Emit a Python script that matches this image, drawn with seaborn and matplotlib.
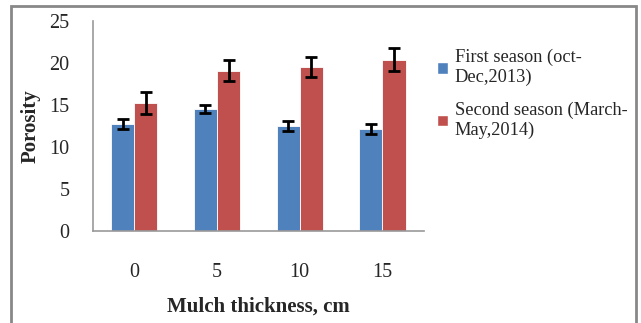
import matplotlib
matplotlib.use("Agg")
import matplotlib.pyplot as plt
from matplotlib.patches import Rectangle
import seaborn as sns
import pandas as pd

thickness = ['0', '5', '10', '15']
seasons = ['First season (oct-\nDec,2013)', 'Second season (March-\nMay,2014)']
first_season = [12.7, 14.5, 12.5, 12.1]
second_season = [15.2, 19.1, 19.5, 20.4]
first_err = [0.6, 0.5, 0.6, 0.6]
second_err = [1.3, 1.2, 1.2, 1.4]

df = pd.DataFrame({
    'thickness': thickness * 2,
    'season': [seasons[0]] * 4 + [seasons[1]] * 4,
    'porosity': first_season + second_season,
})
errs = first_err + second_err

sns.set_style('white')
plt.rcParams['font.family'] = ['Liberation Serif', 'DejaVu Serif']

fig = plt.figure(figsize=(6.41, 3.23), dpi=100)
ax = fig.add_axes([0.145, 0.285, 0.516, 0.65])

colors = ['#4F81BD', '#C0504D']
sns.barplot(data=df, x='thickness', y='porosity', hue='season', palette=colors,
            width=0.56, ax=ax, errorbar=None, saturation=1)

# error bars on top of each bar
for bar, e in zip(ax.patches[:8], errs):
    bar.set_edgecolor('#ffffff')
    bar.set_linewidth(0.6)
    ax.errorbar(bar.get_x() + bar.get_width() / 2, bar.get_height(), yerr=e,
                fmt='none', ecolor='black', elinewidth=2, capsize=4, capthick=2)

ax.set_ylim(0, 25)
ax.set_xlim(-0.5, 3.5)
ax.set_yticks([0, 5, 10, 15, 20, 25])
ax.set_xticks([-0.5, 0.5, 1.5, 2.5, 3.5], minor=True)
ax.tick_params(axis='x', which='major', length=0, pad=23, labelsize=14.5)
ax.tick_params(axis='x', which='minor', length=9, color='#999999', width=1.2, direction='out')
ax.tick_params(axis='y', length=5, color='#999999', width=1.2, direction='out', pad=12, labelsize=14.5)

for s in ['top', 'right']:
    ax.spines[s].set_visible(False)
for s in ['left', 'bottom']:
    ax.spines[s].set_color('#999999')
    ax.spines[s].set_linewidth(1.2)

ax.set_ylabel('Porosity', fontsize=15, fontweight='bold')
ax.yaxis.set_label_coords(-0.158, 0.5)
ax.set_xlabel('Mulch thickness, cm', fontsize=15, fontweight='bold')
ax.xaxis.set_label_coords(0.5, -0.315)

handles, labels = ax.get_legend_handles_labels()
ax.legend_.remove()
fig.legend(handles, labels, loc='upper left', bbox_to_anchor=(0.682, 0.848),
           frameon=False, fontsize=13.2, handlelength=0.6, handleheight=0.6,
           handletextpad=0.35, labelspacing=0.85, borderpad=0, borderaxespad=0)

# outer chart frame
fig.patches.append(Rectangle((11 / 641, -0.1), 625 / 641, 1.1 - 6 / 323,
                             transform=fig.transFigure, fill=False,
                             edgecolor='#888888', linewidth=2))

plt.savefig('out.png', dpi=100)
